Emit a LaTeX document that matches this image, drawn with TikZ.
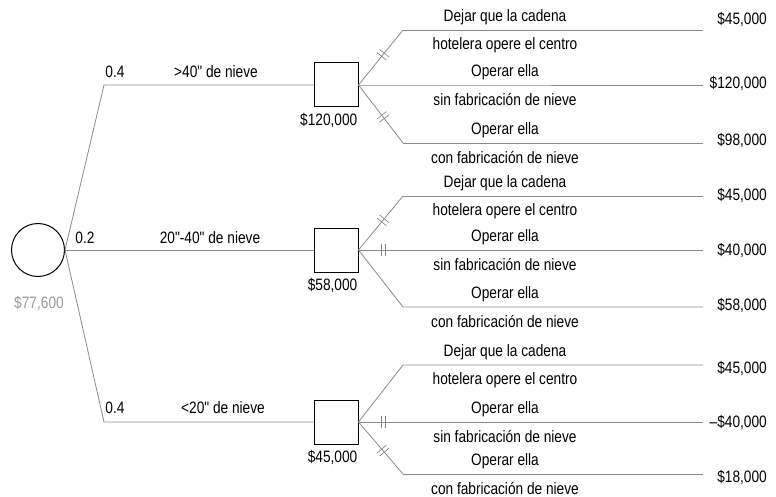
\documentclass[tikz,border=0pt]{standalone}
\usepackage{fontspec}
\setmainfont{Liberation Sans}[Ligatures=TeXOff, FakeStretch=0.83]
\usetikzlibrary{positioning, decorations.markings}
\definecolor{branchgray}{HTML}{8A8A8A}
\definecolor{valuegray}{HTML}{9A9A9A}

\begin{document}
\begin{tikzpicture}[
        x=1pt, y=-1pt,
        font=\fontsize{16.5}{19}\selectfont,
        chance/.style={
            circle,
            draw,
            line width=1pt,
            minimum size=53pt,
            inner sep=0pt
        },
        decision/.style={
            rectangle,
            draw,
            line width=1pt,
            minimum size=44pt,
            inner sep=0pt
        },
        branch/.style={draw=branchgray, line width=0.8pt},
        cut/.style={postaction={decorate, decoration={markings,
            mark=at position 0.55 with {\draw[branchgray, line width=0.7pt]
                (-2pt,-6pt) -- (-2pt,6pt) (2pt,-6pt) -- (2pt,6pt);}}}},
        txt/.style={inner sep=1pt},
        payoff/.style={anchor=east, inner sep=1pt}
    ]
        \useasboundingbox (0,0) rectangle (776,497);

        % Nodes
        \node[chance] (c0) at (38,250) {};
        \node[txt, text=valuegray] (ev) at (39,303) {\$77,600};

        \node[decision] (d1) at (336,85) {};
        \node[decision] (d2) at (336,250) {};
        \node[decision] (d3) at (336,422) {};

        \node[txt, anchor=north east] (v1) at ([yshift=-5pt]d1.south east) {\$120,000};
        \node[txt, anchor=north east] (v2) at ([yshift=-5pt]d2.south east) {\$58,000};
        \node[txt, anchor=north east] (v3) at ([yshift=-5pt]d3.south east) {\$45,000};

        % Chance branches
        \coordinate (k1) at (104,85);
        \coordinate (k3) at (104,422);
        \draw[branch] (c0.east) -- (k1) -- (d1.west);
        \draw[branch] (c0.east) -- (d2.west);
        \draw[branch] (c0.east) -- (k3) -- (d3.west);

        \node[txt] (p1) at (115,72) {0.4};
        \node[txt] (s1) at (216,72) {>40" de nieve};
        \node[txt] (p2) at (85,238) {0.2};
        \node[txt] (s2) at (210,238) {20"-40" de nieve};
        \node[txt] (p3) at (115,408) {0.4};
        \node[txt] (s3) at (223,408) {<20" de nieve};

        % Decision branches
        \foreach \g/\yt/\ym/\yb in {1/30/85/143, 2/196/250/307, 3/365/422/474} {
            \coordinate (t\g) at (403,\yt);
            \coordinate (te\g) at (703,\yt);
            \coordinate (m\g) at (403,\ym);
            \coordinate (me\g) at (703,\ym);
            \coordinate (b\g) at (403,\yb);
            \coordinate (be\g) at (703,\yb);
            \node[txt] at (505,\yt-13) {Dejar que la cadena};
            \node[txt] at (505,\yt+15) {hotelera opere el centro};
            \node[txt] at (505,\ym-13) {Operar ella};
            \node[txt] at (505,\ym+15) {sin fabricación de nieve};
            \node[txt] at (505,\yb-13) {Operar ella};
            \node[txt] at (505,\yb+15) {con fabricación de nieve};
        }

        \draw[branch, cut] (d1.east) -- (t1);
        \draw[branch] (t1) -- (te1);
        \draw[branch] (d1.east) -- (m1) -- (me1);
        \draw[branch, cut] (d1.east) -- (b1);
        \draw[branch] (b1) -- (be1);

        \draw[branch, cut] (d2.east) -- (t2);
        \draw[branch] (t2) -- (te2);
        \draw[branch, cut] (d2.east) -- (m2);
        \draw[branch] (m2) -- (me2);
        \draw[branch] (d2.east) -- (b2) -- (be2);

        \draw[branch] (d3.east) -- (t3) -- (te3);
        \draw[branch, cut] (d3.east) -- (m3);
        \draw[branch] (m3) -- (me3);
        \draw[branch, cut] (d3.east) -- (b3);
        \draw[branch] (b3) -- (be3);

        % Payoffs
        \node[payoff] (r11) at (768,19) {\$45,000};
        \node[payoff] (r12) at (768,83) {\$120,000};
        \node[payoff] (r13) at (768,140) {\$98,000};
        \node[payoff] (r21) at (768,195) {\$45,000};
        \node[payoff] (r22) at (768,250) {\$40,000};
        \node[payoff] (r23) at (768,305) {\$58,000};
        \node[payoff] (r31) at (768,368) {\$45,000};
        \node[payoff] (r32) at (768,422) {–\$40,000};
        \node[payoff] (r33) at (768,477) {\$18,000};

    \end{tikzpicture}
\end{document}
